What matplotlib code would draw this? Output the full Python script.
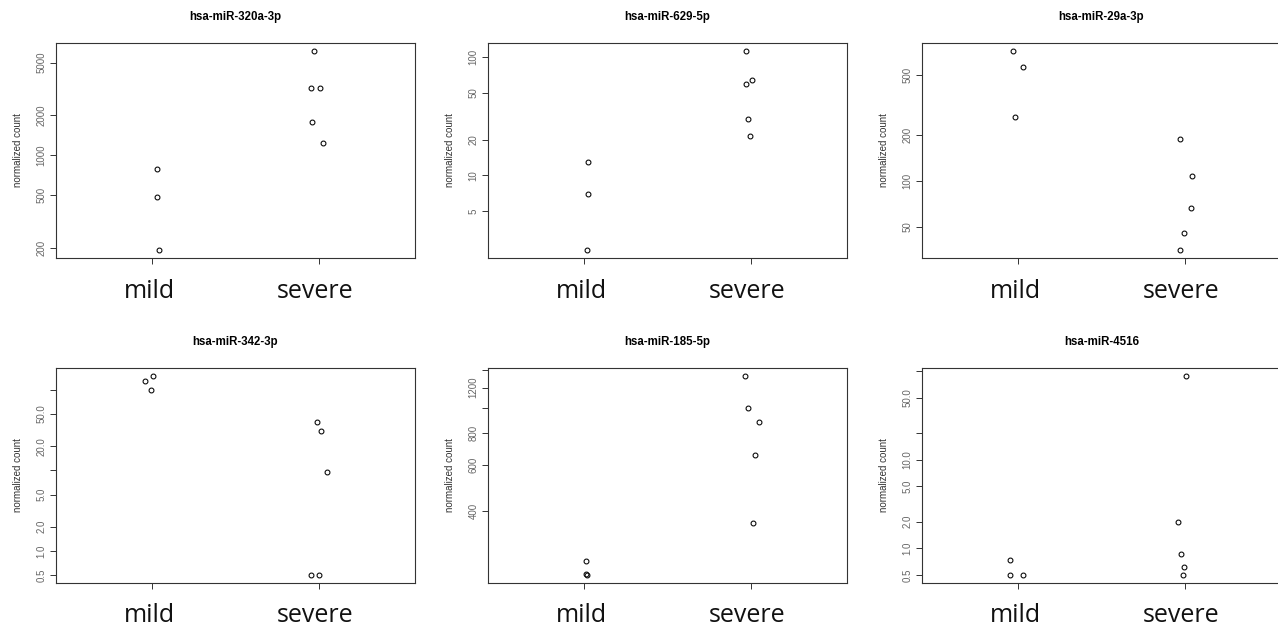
import numpy as np
import matplotlib
matplotlib.use('Agg')
import matplotlib.pyplot as plt
import matplotlib.transforms as mtransforms
from matplotlib.ticker import FixedLocator, FixedFormatter, NullLocator

# groups on the x axis
groups = ['mild', 'severe']

# one entry per miRNA panel
titles = ['hsa-miR-320a-3p', 'hsa-miR-629-5p', 'hsa-miR-29a-3p',
          'hsa-miR-342-3p', 'hsa-miR-185-5p', 'hsa-miR-4516']

# normalized counts
mild_counts = [
    [787, 485, 194],
    [13.0, 7.0, 2.33],
    [714, 559, 262],
    [129, 149, 99.8],
    [256, 228, 225],
    [0.737, 0.5, 0.5],
]
severe_counts = [
    [6120, 3200, 3220, 1798, 1250],
    [113, 63.8, 59, 30, 21.5],
    [190, 108, 67, 45.9, 35.3],
    [39.4, 30.9, 9.5, 0.5, 0.5],
    [1331, 1002, 880, 657, 359],
    [87.7, 2.0, 0.855, 0.62, 0.5],
]

# horizontal jitter of each point (as drawn by plotCounts)
mild_jitter = [
    [0.028, 0.028, 0.038],
    [0.020, 0.020, 0.016],
    [-0.030, 0.030, -0.020],
    [-0.047, 0.006, -0.006],
    [0.012, 0.010, 0.014],
    [-0.050, -0.050, 0.026],
]
severe_jitter = [
    [-0.030, -0.048, 0.008, -0.040, 0.024],
    [-0.026, 0.010, -0.026, -0.014, -0.006],
    [-0.026, 0.044, 0.036, -0.006, -0.026],
    [-0.010, 0.014, 0.050, -0.043, 0.002],
    [-0.035, -0.014, 0.050, 0.027, 0.012],
    [0.006, -0.040, -0.020, -0.004, -0.010],
]

# y ticks and their labels ('' = tick without label, like R drops them)
y_ticks = [
    [200, 500, 1000, 2000, 5000],
    [5, 10, 20, 50, 100],
    [50, 100, 200, 500],
    [0.5, 1, 2, 5, 10, 20, 50, 100],
    [400, 600, 800, 1000, 1200, 1400],
    [0.5, 1, 2, 5, 10, 20, 50, 100],
]
y_tick_labels = [
    ['200', '500', '1000', '2000', '5000'],
    ['5', '10', '20', '50', '100'],
    ['50', '100', '200', '500'],
    ['0.5', '1.0', '2.0', '5.0', '', '20.0', '50.0', ''],
    ['400', '600', '800', '', '1200', ''],
    ['0.5', '1.0', '2.0', '5.0', '10.0', '', '50.0', ''],
]

W, H = 1278, 630
fig = plt.figure(figsize=(W / 100, H / 100), dpi=100)
plt.rcParams['font.family'] = ['Liberation Sans', 'DejaVu Sans']

col_left = [56, 488, 922]
row_top = [43, 368]
ax_w, ax_h = 359, 215
label_base = [298, 622]   # baseline of the big group labels (px from top)

for i, title in enumerate(titles):
    r, c = divmod(i, 3)
    ax = fig.add_axes([col_left[c] / W, (H - row_top[r] - ax_h) / H,
                       ax_w / W, ax_h / H])

    mild = np.array(mild_counts[i])
    severe = np.array(severe_counts[i])
    ax.plot(1 + np.array(mild_jitter[i]), mild, 'o', mfc='none', mec='black',
            ms=3.5, mew=0.75)
    ax.plot(2 + np.array(severe_jitter[i]), severe, 'o', mfc='none', mec='black',
            ms=3.5, mew=0.75)

    ax.set_yscale('log')
    # R style 4% padding in log space
    allv = np.concatenate([mild, severe])
    lo, hi = np.log10(allv.min()), np.log10(allv.max())
    pad = (hi - lo) * 0.04
    ax.set_ylim(10 ** (lo - pad), 10 ** (hi + pad))
    ax.set_xlim(0.42, 2.58)

    ax.yaxis.set_major_locator(FixedLocator(y_ticks[i]))
    ax.yaxis.set_major_formatter(FixedFormatter(y_tick_labels[i]))
    ax.yaxis.set_minor_locator(NullLocator())
    ax.set_xticks([1, 2])
    ax.set_xticklabels(['', ''])

    ax.tick_params(axis='both', direction='out', length=4.3, width=0.7,
                   color='#333333')
    ax.tick_params(axis='y', labelsize=7, labelcolor='#666666', pad=2.5)
    for lab in ax.get_yticklabels():
        lab.set_rotation(90)
        lab.set_va('center')

    for sp in ax.spines.values():
        sp.set_color('#333333')
        sp.set_linewidth(0.8)

    ax.set_title(title, fontsize=8.3, fontweight='bold', pad=0,
                 y=1 + 23 / ax_h)
    ax.set_ylabel('normalized count', fontsize=7, color='#333333', labelpad=10)

    # big group names under the axes
    trans = mtransforms.blended_transform_factory(ax.transData, fig.transFigure)
    for gx, g in enumerate(groups):
        fig.text(gx + 1 - 0.02, 1 - label_base[r] / H, g, transform=trans,
                 ha='center', va='baseline', fontsize=18,
                 family=['Open Sans', 'DejaVu Sans'], color='#111111')

fig.savefig('out.png', dpi=100)
